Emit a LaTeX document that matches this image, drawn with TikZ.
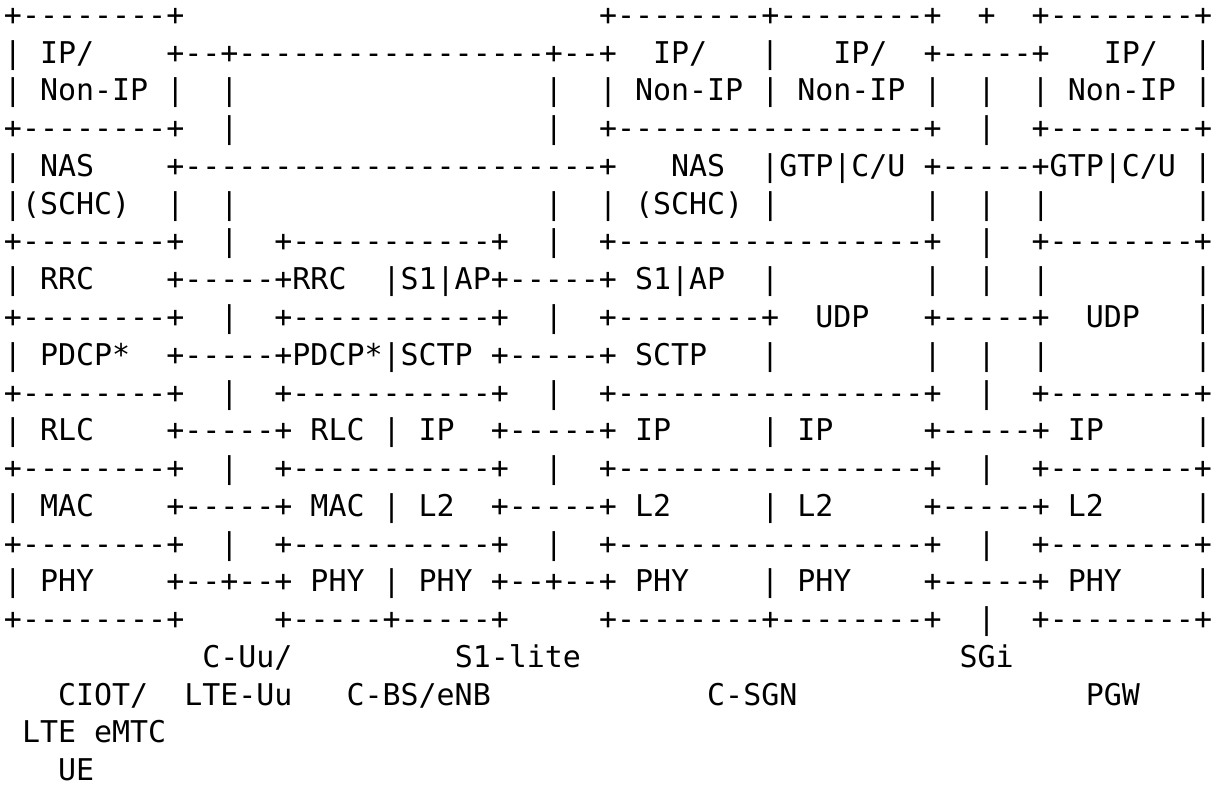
\documentclass[tikz,border=0pt]{standalone}
\usepackage{fontspec}
\setmonofont{DejaVu Sans Mono}
\ExplSyntaxOn
\cs_new:Npn \sk #1 { \prg_replicate:nn {#1} {\ } }
\cs_new:Npn \dsh #1 { \prg_replicate:nn {#1} {-} }
\ExplSyntaxOff
\tikzset{
  artline/.style={anchor=base west, inner sep=0pt, outer sep=0pt, text=black,
    font=\fontsize{14.975pt}{18pt}\selectfont\ttfamily}
}
\begin{document}
\begin{tikzpicture}[x=1pt,y=1pt]
\useasboundingbox (0,0) rectangle (610,-393);
\fill[white] (0,0) rectangle (610,-393);
\def\xl{1.99}
\node[artline] (l1)  at (\xl,-12.75)  {+\dsh{8}+\sk{23}+\dsh{8}+\dsh{8}+\sk{2}+\sk{2}+\dsh{8}+};
\node[artline] (l2)  at (\xl,-31.625) {| IP/\sk{4}+--+\dsh{17}+--+\sk{2}IP/\sk{3}|\sk{3}IP/\sk{2}+\dsh{5}+\sk{3}IP/\sk{2}|};
\node[artline] (l3)  at (\xl,-50.5)   {| Non-IP |\sk{2}|\sk{17}|\sk{2}| Non-IP | Non-IP |\sk{2}|\sk{2}| Non-IP |};
\node[artline] (l4)  at (\xl,-69.375) {+\dsh{8}+\sk{2}|\sk{17}|\sk{2}+\dsh{17}+\sk{2}|\sk{2}+\dsh{8}+};
\node[artline] (l5)  at (\xl,-88.25)  {| NAS\sk{4}+\dsh{23}+\sk{3}NAS\sk{2}|GTP|C/U +\dsh{5}+GTP|C/U |};
\node[artline] (l6)  at (\xl,-107.125){|(SCHC)\sk{2}|\sk{2}|\sk{17}|\sk{2}| (SCHC) |\sk{8}|\sk{2}|\sk{2}|\sk{8}|};
\node[artline] (l7)  at (\xl,-126)    {+\dsh{8}+\sk{2}|\sk{2}+\dsh{11}+\sk{2}|\sk{2}+\dsh{17}+\sk{2}|\sk{2}+\dsh{8}+};
\node[artline] (l8)  at (\xl,-144.875){| RRC\sk{4}+\dsh{5}+RRC\sk{2}|S1|AP+\dsh{5}+ S1|AP\sk{2}|\sk{8}|\sk{2}|\sk{2}|\sk{8}|};
\node[artline] (l9)  at (\xl,-163.75) {+\dsh{8}+\sk{2}|\sk{2}+\dsh{11}+\sk{2}|\sk{2}+\dsh{8}+\sk{2}UDP\sk{3}+\dsh{5}+\sk{2}UDP\sk{3}|};
\node[artline] (l10) at (\xl,-182.625){| PDCP*\sk{2}+\dsh{5}+PDCP*|SCTP +\dsh{5}+ SCTP\sk{3}|\sk{8}|\sk{2}|\sk{2}|\sk{8}|};
\node[artline] (l11) at (\xl,-201.5)  {+\dsh{8}+\sk{2}|\sk{2}+\dsh{11}+\sk{2}|\sk{2}+\dsh{17}+\sk{2}|\sk{2}+\dsh{8}+};
\node[artline] (l12) at (\xl,-220.375){| RLC\sk{4}+\dsh{5}+ RLC | IP\sk{2}+\dsh{5}+ IP\sk{5}| IP\sk{5}+\dsh{5}+ IP\sk{5}|};
\node[artline] (l13) at (\xl,-239.25) {+\dsh{8}+\sk{2}|\sk{2}+\dsh{11}+\sk{2}|\sk{2}+\dsh{17}+\sk{2}|\sk{2}+\dsh{8}+};
\node[artline] (l14) at (\xl,-258.125){| MAC\sk{4}+\dsh{5}+ MAC | L2\sk{2}+\dsh{5}+ L2\sk{5}| L2\sk{5}+\dsh{5}+ L2\sk{5}|};
\node[artline] (l15) at (\xl,-277)    {+\dsh{8}+\sk{2}|\sk{2}+\dsh{11}+\sk{2}|\sk{2}+\dsh{17}+\sk{2}|\sk{2}+\dsh{8}+};
\node[artline] (l16) at (\xl,-295.875){| PHY\sk{4}+--+--+ PHY | PHY +--+--+ PHY\sk{4}| PHY\sk{4}+\dsh{5}+ PHY\sk{4}|};
\node[artline] (l17) at (\xl,-314.75) {+\dsh{8}+\sk{5}+\dsh{5}+\dsh{5}+\sk{5}+\dsh{8}+\dsh{8}+\sk{2}|\sk{2}+\dsh{8}+};
\node[artline] (l18) at (\xl,-333.625){\sk{11}C-Uu/\sk{9}S1-lite\sk{21}SGi};
\node[artline] (l19) at (\xl,-352.5)  {\sk{3}CIOT/\sk{2}LTE-Uu\sk{3}C-BS/eNB\sk{12}C-SGN\sk{16}PGW};
\node[artline] (l20) at (\xl,-371.375){\sk{1}LTE eMTC};
\node[artline] (l21) at (\xl,-390.25) {\sk{3}UE};
\end{tikzpicture}
\end{document}
